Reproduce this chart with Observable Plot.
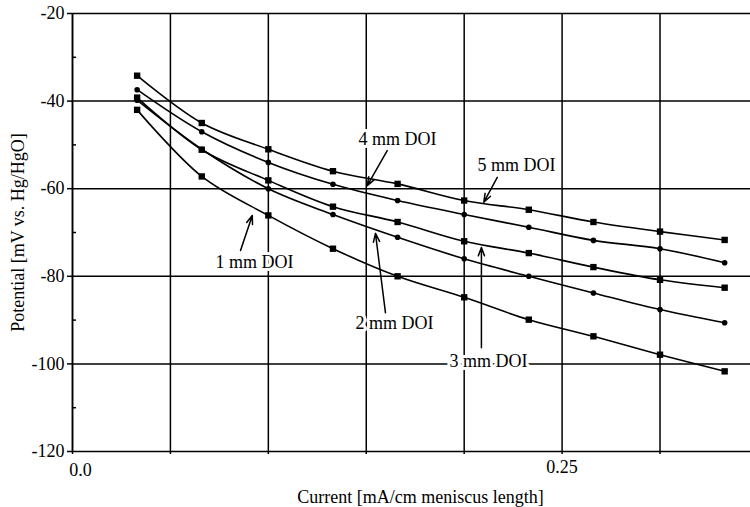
<!DOCTYPE html>
<html><head><meta charset="utf-8">
<script src="https://cdn.jsdelivr.net/npm/d3@7"></script>
<script src="https://cdn.jsdelivr.net/npm/@observablehq/plot@0.6"></script>
<style>body{margin:0;background:#fff}</style>
</head><body><div id="chart"></div>
<script>
// ---- data ----
const currents = [0.033, 0.066, 0.1, 0.133, 0.166, 0.2, 0.233, 0.266, 0.3, 0.333];
const seriesNames = ["5 mm DOI", "4 mm DOI", "3 mm DOI", "2 mm DOI", "1 mm DOI"];
const doi5 = [-34.2, -45.0, -51.0, -56.0, -58.9, -62.7, -64.8, -67.6, -69.8, -71.7];
const doi4 = [-37.4, -47.0, -54.0, -59.0, -62.7, -65.9, -68.8, -71.8, -73.7, -76.9];
const doi3 = [-39.2, -51.1, -58.1, -64.1, -67.6, -72.0, -74.7, -77.9, -80.8, -82.6];
const doi2 = [-39.8, -51.0, -60.0, -65.9, -71.1, -76.0, -80.0, -83.8, -87.6, -90.6];
const doi1 = [-42.0, -57.2, -66.1, -73.7, -80.0, -84.8, -89.9, -93.7, -97.9, -101.7];
const seriesMarkers = ["square", "circle", "square", "circle", "square"];

const yTicks = [-20, -40, -60, -80, -100, -120];
const yMinorTicks = [-30, -50, -70, -90, -110];
const xGridTicks = [0.05, 0.1, 0.15, 0.2, 0.25, 0.3];
const xAxisTicks = [0, 0.05, 0.1, 0.15, 0.2, 0.25, 0.3];
const xTickLabelValues = [0, 0.25];
const xTickLabelTexts = ["0.0", "0.25"];

// annotation labels and arrows (data units)
const labelTexts = ["1 mm DOI", "2 mm DOI", "3 mm DOI", "4 mm DOI", "5 mm DOI"];
const labelX = [0.0929, 0.1644, 0.2124, 0.1660, 0.2267];
const labelY = [-76.85, -90.8, -99.45, -48.8, -54.7];
const arrowFromX = [0.0858, 0.1598, 0.2088, 0.1607, 0.2169];
const arrowFromY = [-74.1, -88.3, -96.3, -51.3, -57.4];
const arrowToX = [0.0918, 0.1547, 0.2088, 0.1505, 0.2100];
const arrowToY = [-66.1, -70.2, -73.4, -59.3, -63.1];

const xTitle = "Current [mA/cm meniscus length]";
const yTitle = "Potential [mV vs. Hg/HgO]";

// ---- build tables ----
const seriesValues = [doi5, doi4, doi3, doi2, doi1];
const rows = [];
seriesNames.forEach((name, i) => {
  currents.forEach((c, j) => rows.push({series: name, marker: seriesMarkers[i], x: c, y: seriesValues[i][j]}));
});
const labels = labelTexts.map((t, i) => ({text: t, x: labelX[i], y: labelY[i]}));
const arrows = labelTexts.map((t, i) => ({x1: arrowFromX[i], y1: arrowFromY[i], x2: arrowToX[i], y2: arrowToY[i]}));
const xLabels = xTickLabelValues.map((v, i) => ({x: v, text: xTickLabelTexts[i]}));

const font = "Liberation Serif";
const sw = 1.5;

const chart = Plot.plot({
  width: 750,
  height: 507,
  marginLeft: 72,
  marginRight: 0,
  marginTop: 13,
  marginBottom: 56,
  style: {fontFamily: font, fontSize: "18px", background: "white", color: "black"},
  x: {domain: [0, 0.3462]},
  y: {domain: [-120, -20]},
  marks: [
    Plot.ruleX(xGridTicks, {stroke: "black", strokeWidth: sw}),
    Plot.ruleY(yTicks, {stroke: "black", strokeWidth: sw}),
    Plot.ruleX([0], {stroke: "black", strokeWidth: sw + 0.4}),
    Plot.axisY(yTicks, {tickSize: 5, tickPadding: 3, fontSize: 18, fontFamily: font, label: null, strokeWidth: sw, tickFormat: d => String(d)}),
    Plot.axisY(yMinorTicks, {tickSize: 4, dx: 4, tickFormat: () => "", label: null, strokeWidth: sw}),
    Plot.axisX(xAxisTicks, {tickSize: 3, tickFormat: () => "", label: null, strokeWidth: sw}),
    Plot.text(xLabels.slice(0, 1), {x: "x", text: "text", frameAnchor: "bottom", dy: 19, dx: 8, fontSize: 18, fontFamily: font, textAnchor: "middle", lineAnchor: "middle"}),
    Plot.text(xLabels.slice(1), {x: "x", text: "text", frameAnchor: "bottom", dy: 16, fontSize: 18, fontFamily: font, textAnchor: "middle", lineAnchor: "middle"}),
    Plot.line(rows, {x: "x", y: "y", z: "series", stroke: "black", strokeWidth: 1.6, curve: "catmull-rom"}),
    Plot.dot(rows.filter(d => d.marker === "square"), {x: "x", y: "y", symbol: "square", r: 3.6, fill: "black", stroke: "none"}),
    Plot.dot(rows.filter(d => d.marker === "circle"), {x: "x", y: "y", symbol: "circle", r: 2.8, fill: "black", stroke: "none"}),
    Plot.arrow(arrows, {x1: "x1", y1: "y1", x2: "x2", y2: "y2", stroke: "black", strokeWidth: 1.5, headLength: 9, headAngle: 40}),
    Plot.text(labels, {x: "x", y: "y", text: "text", fontSize: 18, fontFamily: font, fill: "black", stroke: "white", strokeWidth: 6, textAnchor: "middle", lineAnchor: "middle"}),
    Plot.text([yTitle], {text: d => d, frameAnchor: "left", rotate: -90, dx: -54, fontSize: 18, fontFamily: font, textAnchor: "middle", lineAnchor: "middle"}),
    Plot.text([xTitle], {text: d => d, frameAnchor: "bottom", dy: 46, dx: 9, fontSize: 18, fontFamily: font, textAnchor: "middle", lineAnchor: "middle"})
  ]
});
document.getElementById("chart").append(chart);
</script>
</body></html>
